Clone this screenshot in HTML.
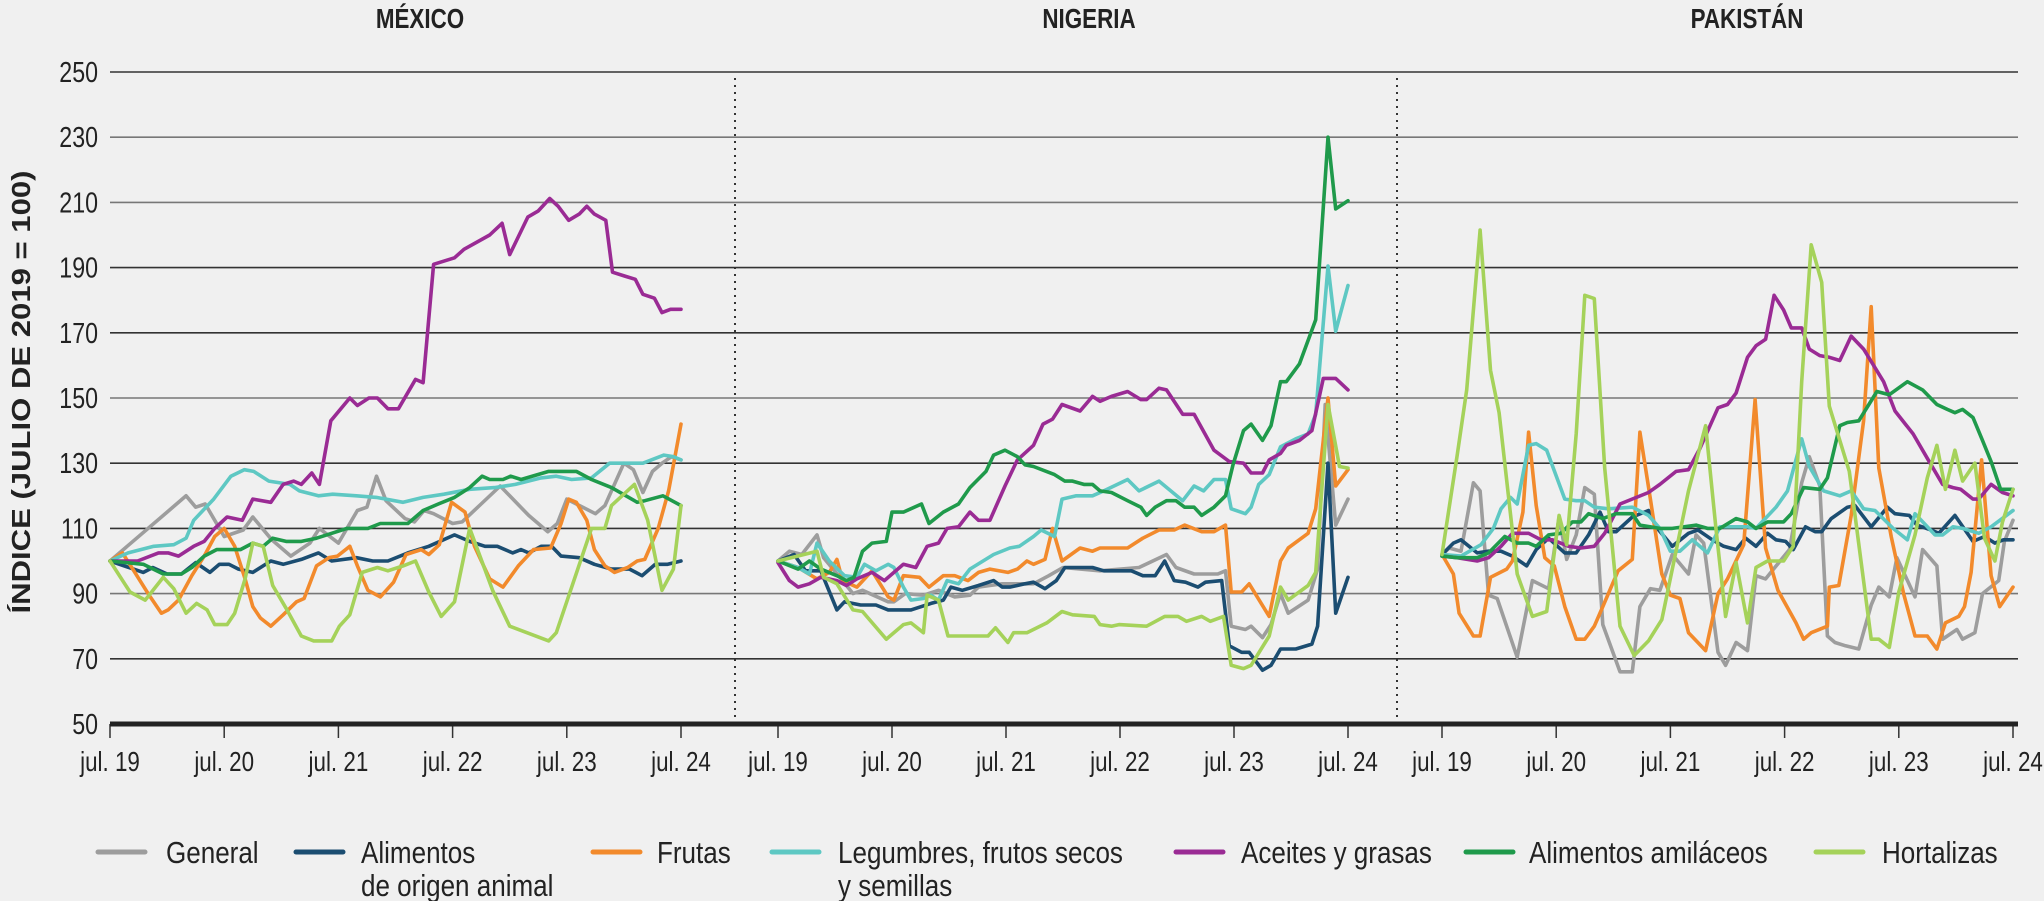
<!DOCTYPE html>
<html><head><meta charset="utf-8"><style>
html,body{margin:0;padding:0;background:#f0f0f0;}
svg{display:block;font-family:"Liberation Sans",sans-serif;}
</style></head><body>
<svg id="chart" width="2044" height="901" viewBox="0 0 2044 901" xmlns="http://www.w3.org/2000/svg">
<rect x="0" y="0" width="2044" height="901" fill="#f0f0f0"/>
<g id="grid"></g>
<g id="axes"></g>
<g id="series"></g>
<g id="labels"></g>
<g id="legend"></g>
</svg>
<script>
const yTicks = [50,70,90,110,130,150,170,190,210,230,250];
const xTickLabels = ["jul. 19","jul. 20","jul. 21","jul. 22","jul. 23","jul. 24"];
const panelTitles = ["MÉXICO","NIGERIA","PAKISTÁN"];
const seriesNames = ["General","Alimentos de origen animal","Frutas","Legumbres, frutos secos y semillas","Aceites y grasas","Alimentos amiláceos","Hortalizas"];

// [month index since jul.19, index value]
const mexGeneral = [[0,100],[6,115],[8,120],[9,116.5],[10,117.5],[12,107.5],[14,109.5],[15,113.5],[17,106.5],[19,101.5],[21,105.5],[22,110],[24,105.5],[26,115.5],[27,116.5],[28,126],[29,118.5],[31,113],[32,112],[33,115.5],[34,114.5],[36,111.5],[37,112],[39,117.5],[41,123],[42,120],[44,114],[46,109],[47,111.5],[48,119],[51,114.5],[52,117],[54,130],[55,128],[56,121],[57,127.5],[58,130],[59,132],[60,131]];
const mexAnimal = [[0,100],[3.5,96.5],[4.5,98],[6,96],[7.5,96],[9,99.5],[10.5,96.5],[11.5,99],[12.5,99],[13.5,97.5],[15,96.5],[16.9,100],[18.2,99],[20.1,100.5],[21.9,102.5],[23.3,100],[25.9,101],[27.6,100],[29.2,100],[31.3,102.5],[33.5,104.5],[36.2,108],[37.8,106],[39.4,104.5],[40.7,104.5],[42.3,102.5],[43.2,103.5],[44,102.5],[45.3,104.5],[46.4,104.5],[47.4,101.5],[49.3,101],[50.9,99],[52.7,97.5],[54.6,97.5],[55.9,95.5],[57.3,99],[58.6,99],[60,100]];
const mexFrutas = [[0,100],[1.3,102.5],[2.4,97.5],[4,90],[5.4,84],[6.1,85],[7.2,88],[8.6,95.5],[9.9,101.5],[11,107.5],[12,110],[13.1,104.5],[14.2,94.5],[15,86],[15.8,82.5],[16.9,80],[18.2,83.5],[19.6,87.5],[20.4,88.5],[21.7,98.5],[23,101],[23.9,101.5],[25.2,104.5],[26,98.5],[27.1,91],[28.4,89],[29.8,93.5],[31.1,102],[32.7,103.5],[33.5,102],[34.6,105],[35.9,118],[37.3,115],[38.3,104.5],[39.9,94.5],[41.3,92],[42.9,98.5],[44.5,103.5],[46.3,104],[47.4,111.5],[48.2,119],[49,118],[50.1,112.5],[50.9,103.5],[52,98.5],[53,96.5],[54.4,98],[55.4,100],[56.2,100.5],[57.6,110],[58.7,121.5],[60,142]];
const mexLegumbres = [[0,100],[1.9,102.5],[4.6,104.5],[6.7,105],[8,107],[8.8,112.5],[10.9,119],[12.7,126],[14.1,128],[15.1,127.5],[16.7,124.5],[18.9,123.5],[19.9,121.5],[21.9,120],[23.4,120.5],[25.9,120],[28,119.5],[30.8,118],[32.9,119.5],[35.1,120.5],[37.8,122],[40.4,122.5],[42.6,123.5],[45.3,125.5],[46.9,126],[48.5,125],[50.6,125.5],[52.5,130],[56,130],[58.2,132.5],[59.2,132],[60,131]];
const mexAceites = [[0,100],[2.9,100],[5.1,102.5],[6.1,102.5],[7.2,101.5],[8.8,104.5],[9.9,106],[11,110],[12.3,113.5],[13.9,112.5],[15,119],[16.9,118],[18.2,123.5],[19.3,124.5],[20.1,123.5],[21.2,127],[22,123.5],[23.2,143],[25.2,150],[26,147.7],[27.2,150],[28.1,150],[29.2,146.7],[30.3,146.7],[32.1,155.7],[32.9,154.7],[34,191],[36.2,193],[37.2,195.6],[39.9,200],[41.2,203.6],[42,194],[43.9,205.5],[45,207.4],[46.2,211.2],[47.1,208.8],[48.2,204.5],[49.3,206.4],[50.1,208.8],[50.9,206.4],[52.1,204.5],[52.8,188.6],[54.1,187.4],[55.2,186.4],[56,181.8],[57.2,180.6],[58,176.2],[58.9,177.2],[60,177.2]];
const mexAmilaceos = [[0,100],[3.5,99],[5.6,96],[7.5,96],[8.6,98],[9.9,101.5],[11.2,103.5],[13.7,103.5],[15,105.5],[16.1,104.5],[17.1,107],[18.5,106],[20.1,106],[21.7,107],[23.3,108.5],[24.9,110],[27.1,110],[28.4,111.5],[31.3,111.5],[32.9,115.5],[34.5,117.5],[36.2,119.5],[37.8,122.5],[39.1,126],[39.9,125],[41.3,125],[42.1,126],[43.2,125],[46.1,127.5],[49,127.5],[50.6,125],[52.7,122.5],[55.4,118],[56.2,118.5],[58.1,120],[60,117]];
const mexHortalizas = [[0,100],[2.1,90.5],[3.7,88],[5.6,95],[6.7,91.5],[8,84],[9.1,87],[10.2,85],[11,80.5],[12.3,80.5],[13.1,84],[14.2,94.5],[15,105.5],[16.1,104.5],[17.1,92.5],[18.5,85.5],[20.1,77],[21.4,75.5],[23.3,75.5],[24.1,80],[25.2,83.5],[26.5,96.5],[28.1,98],[29.2,97],[30.8,98.5],[32.1,100],[33.5,90.5],[34.8,83],[36.2,87.5],[37.8,110],[40.2,91],[42,80],[46.1,75.5],[46.9,78],[50.6,110],[52,110],[52.7,117],[55.1,123.5],[56.5,112.5],[58,91],[59.2,97.5],[60,117]];

const ngaGeneral = [[0,100],[1.2,103],[2.5,102],[4.1,108],[4.8,101],[6.8,94],[7.9,90],[8.9,91],[11.6,87.5],[12.2,87.5],[13.4,90],[15.3,89.5],[16.9,91],[18.6,89],[20.2,89.5],[21.1,92],[22.3,92.5],[23.6,93],[26.9,93],[28.5,95.5],[30,98],[33.9,97],[38,98],[40.9,102],[41.9,98],[43.8,96],[46.3,96],[47.1,97],[47.7,80],[49.2,79],[49.8,80],[51,76.5],[51.9,80.5],[52.9,90],[53.7,84],[55.8,88],[56.8,97.5],[57.6,148],[58.7,111],[60,119]];
const ngaAnimal = [[0,100],[1.7,102],[2.9,97],[4.5,97],[6.2,85],[7,87.5],[8.7,86.5],[10.3,86.5],[11.6,85],[14,85],[16.1,87],[17.4,88],[18.2,92],[19.4,91],[21.1,92.5],[22.7,94],[23.6,92],[24.4,92],[26,93],[26.9,93.5],[28.1,91.5],[29.3,94],[30.2,98],[33.1,98],[34.3,97],[37.2,97],[38.4,95.5],[39.7,95.5],[40.7,100],[41.7,94],[42.9,93.5],[44.2,92],[45,93.5],[46.7,94],[47.5,74],[48.8,72],[49.6,72],[51,66.5],[51.9,68],[52.9,73],[54.5,73],[56.2,74.5],[56.8,80],[57.9,130],[58.7,84],[60,95]];
const ngaFrutas = [[0,100],[2.1,98],[4.1,94.5],[5.4,96.5],[6.2,100.5],[6.8,94],[8.3,92],[9.9,97],[11.6,89],[12.2,88],[13.2,95.5],[14.9,95],[15.9,92],[17.4,95.5],[18.6,95.5],[20,94],[21.1,96.5],[22.3,97.5],[24.2,96.5],[25.2,97.5],[26.2,100],[26.9,99],[28.1,100.5],[28.9,110],[29.9,100],[31.8,104],[33.1,103],[33.9,104],[36.8,104],[38.4,107],[40.1,109.5],[41.7,109.5],[42.8,111],[44.6,109],[45.9,109],[47.1,111],[47.7,90.5],[48.8,90.5],[49.6,93],[51.7,83],[52.9,100],[53.7,104],[55.8,108.5],[56.6,116],[57.9,150],[58.7,123],[60,128]];
const ngaLegumbres = [[0,100],[2.1,98],[3.3,96],[4.1,105.5],[5.4,100],[7,95.5],[8.3,95],[9.1,99],[10.3,97],[11.6,99],[12.2,98],[13.2,92],[14,88],[15.3,88.5],[16.1,89.5],[16.9,88],[17.8,94],[19,93],[20.2,97.5],[22.7,102],[24.4,104],[25.4,104.5],[26.9,107.5],[27.7,109.5],[29.1,107.5],[29.9,119],[31.4,120],[33.1,120],[34.3,121.5],[36.8,125],[38,121.5],[40.1,124.5],[42.6,118.5],[43.8,123],[44.8,121.5],[45.9,125],[47.1,125],[47.7,116],[49.2,114.5],[49.8,116.5],[50.6,123.5],[51.7,126.5],[52.9,135],[54.5,137.5],[55.8,139],[56.6,145],[57.9,190.5],[58.7,170.5],[60,184.5]];
const ngaAceites = [[0,99.5],[1.2,94],[2.1,92],[3.3,93],[4.5,95],[6.2,94],[7.2,92.5],[8.3,94.5],[9.9,96.5],[11.2,94],[13.2,99],[14.5,98],[15.7,104.5],[16.9,105.5],[17.8,110],[19,110.5],[20.2,115],[21.1,112.5],[22.3,112.5],[23.9,123],[25.2,131],[26.9,135.5],[27.9,142],[28.9,143.5],[29.9,148],[31.8,146],[33.1,150.5],[33.9,149],[35.1,150.5],[36.8,152],[38.2,149.5],[38.8,149.5],[40.1,153],[40.9,152.5],[42.6,145],[43.8,145],[45.9,134],[47.5,130.5],[49,130],[49.8,127],[51,127],[51.7,131],[52.9,133],[53.5,135.5],[54.9,137],[56.2,140],[57.4,156],[58.7,156],[60,152.5]];
const ngaAmilaceos = [[0,100],[2.1,97.5],[3.3,100],[4.5,97.5],[6.2,95.5],[7.2,94],[8,95],[8.9,103],[9.9,105.5],[11.4,106],[12,115],[13.2,115],[15.1,117.5],[15.9,111.5],[17.4,115],[19,117.5],[20.2,122.5],[21.9,127.5],[22.7,132.5],[23.9,134],[25.2,132],[26,129.5],[26.9,129],[29.1,126.5],[30.2,124.5],[31,124.5],[32.2,123.5],[33.1,123.5],[33.9,121.5],[35.1,121],[36.8,118.5],[38.2,116.5],[38.8,114],[39.7,116.5],[40.9,118.5],[41.9,118.5],[42.8,116.5],[43.8,116.5],[44.6,114],[45.9,116.5],[47.1,120],[47.9,129.5],[49,140],[49.8,142],[51,137],[51.9,141.5],[52.9,155],[53.5,155],[54.9,160.5],[56.6,174],[57.9,230],[58.7,208],[60,210.5]];
const ngaHortalizas = [[0,100],[4.1,103],[4.8,95],[6.2,93],[7.9,85],[8.9,84.5],[11.4,76],[13.2,80.5],[14,81],[15.3,78],[15.7,89.5],[16.9,88],[17.9,77],[22.1,77],[22.9,79.5],[24.2,75],[24.8,78],[26.2,78],[28.3,81],[29.9,84.5],[31,83.5],[33.3,83],[33.9,80.5],[35.1,80],[35.9,80.5],[38.8,80],[40.7,83],[42.1,83],[43,81.5],[44.6,83],[45.5,81.5],[46.9,83],[47.7,68],[49,67],[49.8,68],[51.7,77],[52.9,92],[53.7,88],[55.8,92.5],[56.6,96.5],[57.9,148],[59.1,129],[60,128.5]];

const pakGeneral = [[0,101.8],[0.75,104],[2,103],[3.3,124],[4,121.5],[4.9,89.5],[5.8,88.5],[7.9,70.5],[9.5,94],[11.2,91.5],[12.3,113.5],[13.1,100.5],[14.1,108],[15,122.5],[16,120.5],[16.9,80.5],[18.7,66],[20,66],[20.8,86],[21.9,91.5],[22.9,91],[24.2,102],[25.9,96],[26.7,108],[27.5,105.5],[29,72],[29.8,68],[30.9,75],[32.1,72.5],[33,95.5],[34,94.5],[36.5,103.5],[37.8,124],[38.6,132],[39.7,123],[40.5,77],[41.3,75],[42.4,74],[43.8,73],[45.1,86.5],[45.9,92],[47,89],[47.8,101],[49.7,89],[50.5,103.5],[52,98.5],[52.6,76],[54.1,79],[54.7,76],[56,78],[56.8,90],[58.5,94],[59.1,106],[60,112.5]];
const pakAnimal = [[0,102],[1.2,105.5],[2,106.5],[3.7,102.5],[4.9,103],[6.2,103],[7.4,101.5],[8.9,98.5],[9.9,103.5],[11.2,107],[12.9,102.5],[14.1,102.5],[15.4,108],[16.6,115],[17.5,109],[18.3,109],[20,113.5],[21.7,115.5],[22.5,110.5],[24.2,104.5],[25.9,108.5],[26.9,109.5],[28.4,106.5],[29.6,104.5],[30.9,103.5],[31.9,107],[33,104.5],[34.2,108.5],[35.1,106.5],[36.1,106],[36.9,103.5],[38.2,110.5],[39.2,109],[39.9,109],[40.9,113],[42.6,116.5],[43.4,117],[45.1,110.5],[46.8,116.5],[47.6,114.5],[49.1,114],[49.9,111],[51.4,109.5],[52.2,108.5],[53.9,114],[55.8,106],[57,107.5],[58.1,105.5],[59,106.5],[60,106.5]];
const pakFrutas = [[0,102],[1.2,96],[1.8,84],[3.3,77],[4,77],[5.1,95],[6.8,97.5],[7.4,100],[8.5,115],[9.1,139.5],[9.9,117],[10.8,101],[11.8,98.5],[12.9,86],[14.1,76],[15,76],[16,80],[16.9,86],[18.5,97],[20,100.5],[20.8,139.5],[21.9,119],[23.1,96],[24,89.5],[25,88.5],[25.9,78],[27.7,72.5],[29,90],[30,94.5],[31.7,105],[32.9,149.5],[34,104],[35.3,91],[37.2,81],[38,76],[38.8,78],[40.5,80],[40.7,92],[41.7,92.5],[43,114],[44.3,143],[45.1,178],[45.9,128.5],[47.2,107.5],[48.5,90],[49.7,77],[51,77],[52,73],[52.9,81],[54.3,83],[54.9,86],[55.6,96.5],[56.7,131],[57.7,95.5],[58.6,86],[60,92]];
const pakLegumbres = [[0,102],[2,101.5],[4.1,105],[5.4,110],[6.2,116],[7.2,119.5],[7.9,117.5],[9.1,135.5],[9.9,136],[11,134],[12.9,119],[14.1,118.5],[15,118.5],[16,116.5],[17.5,116],[20,116.5],[21.7,114],[22.9,110],[24,103],[25,103],[26.3,106.5],[27.9,102.5],[29.2,110.5],[32.1,110.5],[33,110],[35.1,116.5],[36.3,121.5],[37.8,137.5],[38.6,129],[40.1,121.5],[41.8,120],[43,121.5],[44.3,116],[45.5,115.5],[47.4,110],[48.9,106.5],[49.7,114.5],[51.8,108],[52.6,108],[53.7,110.5],[54.7,110],[56.4,108.5],[57.7,110.5],[60,115.5]];
const pakAceites = [[0,101.5],[1.6,101],[3.7,100],[4.9,101],[6.2,104.5],[7.4,108.5],[9.1,108.5],[10.4,106.5],[11.6,106.5],[13.3,104.5],[14.6,104],[16,104.5],[17.1,108.5],[18.7,117.5],[21.7,121],[22.9,123.5],[24.6,127.5],[25.9,128],[27.1,134.5],[29,147],[30,148],[30.9,151.5],[32.1,162.5],[33,166],[34,168],[34.9,181.5],[35.9,177],[36.7,171.5],[37.8,171.5],[38.6,165],[39.7,163],[40.7,162.5],[41.8,161.5],[43,169],[44.3,165],[46.4,155],[47.6,146],[49.5,139],[51,131.5],[52.6,123.5],[53.7,122.5],[54.5,122],[55.8,119],[56.4,119],[57.7,123.5],[58.9,121],[60,120]];
const pakAmilaceos = [[0,101.5],[1.6,101],[3.7,101],[4.9,102.5],[6.6,107.5],[7.9,105.5],[9.1,105.5],[9.9,104.5],[11.2,108],[12.5,108.5],[13.7,112],[14.6,112],[15.4,114.5],[16.9,113],[18.3,114.5],[20,114.5],[20.8,111],[22.9,110],[24.2,110],[26.7,111],[27.9,110],[29.2,110],[30.9,113],[32.1,112],[33,110],[34.2,112],[35.9,112],[36.7,114.5],[38,122.5],[39.7,122],[40.5,125.5],[41.8,141.5],[42.6,142.5],[43.8,143],[45.7,152],[47,151],[48.9,155],[50.5,152.5],[52,148],[53.1,146.5],[53.9,145.5],[54.7,146.5],[55.8,144],[56.8,137],[57.7,130.5],[58.7,122],[60,122]];
const pakHortalizas = [[0,102],[1.6,132.5],[2.6,152.5],[4,201.5],[5.1,158.5],[6,145.5],[7.9,96],[9.5,83],[11,84.5],[12.3,114],[13.1,105],[14.1,139],[15,181.5],[16,180.5],[17.1,128.5],[18.7,80],[20.2,71],[21.7,75.5],[23.1,82],[24.2,97.5],[25.9,121.5],[27.7,141.5],[28.8,109.5],[29.8,83],[30.9,99.5],[32.1,81],[33,98],[34.2,100],[35.9,100],[36.9,104.5],[37.8,155],[38.8,197],[39.9,185.5],[40.7,147.5],[42.8,127.5],[45.1,76],[45.9,76],[47,73.5],[48,90.5],[49.7,108],[51,125.5],[52,135.5],[52.9,122],[53.9,134],[54.7,124.5],[56,130],[57,107],[58.1,100],[58.9,112],[60,122]];

const colors = ["#9d9d9d","#1b4d71","#f28a2c","#5ec8c3","#9a2b94","#1f9a4b","#a5d25a"];
const keys = ["general","animal","frutas","legumbres","aceites","amilaceos","hortalizas"];
const panels = [
  {id:"mexico", x0:110, x1:681, data:[mexGeneral,mexAnimal,mexFrutas,mexLegumbres,mexAceites,mexAmilaceos,mexHortalizas], tx:420},
  {id:"nigeria", x0:778, x1:1348, data:[ngaGeneral,ngaAnimal,ngaFrutas,ngaLegumbres,ngaAceites,ngaAmilaceos,ngaHortalizas], tx:1089},
  {id:"pakistan", x0:1442, x1:2013, data:[pakGeneral,pakAnimal,pakFrutas,pakLegumbres,pakAceites,pakAmilaceos,pakHortalizas], tx:1747}
];
const NS="http://www.w3.org/2000/svg";
function yScale(v){ return 724 - (v-50)*3.26; }
function xScale(p,m){ return p.x0 + (p.x1-p.x0)*m/60; }
function mk(tag, attrs, parent){ const e=document.createElementNS(NS,tag); for(const k in attrs) e.setAttribute(k,attrs[k]); parent.appendChild(e); return e; }
function narrowText(parent, str, x, y, size, anchor, weight, sx){
  const t = mk("text",{transform:`translate(${x},${y}) scale(${sx},1)`,"font-size":size,"text-anchor":anchor,"font-weight":weight,fill:"#222"},parent);
  t.textContent = str; return t;
}
const grid=document.getElementById("grid"), axes=document.getElementById("axes"), ser=document.getElementById("series"), lab=document.getElementById("labels"), leg=document.getElementById("legend");

yTicks.forEach(v=>{
  if(v===50) return;
  const l = mk("line",{x1:110,x2:2018,y1:yScale(v),y2:yScale(v),stroke:(v===250||v===190||v===170||v===130||v===110||v===70)?"#333":"#777","stroke-width":1.6},grid);
  
  
  const t = narrowText(lab, String(v), 98, yScale(v)+10, 29, "end", "normal", 0.8);
  
  
});
[735,1397].forEach((x,i)=>{
  const l = mk("line",{x1:x,x2:x,y1:78,y2:722,stroke:"#333","stroke-width":2,"stroke-dasharray":"2 5"},axes);
  
  
});
const t50 = narrowText(lab, "50", 98, yScale(50)+10, 29, "end", "normal", 0.8);



panels.forEach((p,pi)=>{
  const tt = narrowText(lab, panelTitles[pi], p.tx, 28, 28, "middle", "bold", 0.8);
  
  
  xTickLabels.forEach((s,i)=>{
    const x = xScale(p, i*12);
    const tk = mk("line",{x1:x,x2:x,y1:724,y2:738,stroke:"#333","stroke-width":1.5},axes);
    
    
    const tl = narrowText(lab, s, x, 771, 28, "middle", "normal", 0.8);
    
    
  });
  p.data.forEach((arr,si)=>{
    const d = arr.map((pt,i)=>(i?"L":"M")+xScale(p,pt[0]).toFixed(1)+","+yScale(pt[1]).toFixed(1)).join("");
    const path = mk("path",{d:d,fill:"none",stroke:colors[si],"stroke-width":3.6,"stroke-linejoin":"round","stroke-linecap":"round"},ser);
    
    
  });
});
const base = mk("line",{x1:110,x2:2018,y1:724,y2:724,stroke:"#222","stroke-width":5},axes);



const yt = mk("text",{transform:"translate(30,392) rotate(-90)","font-size":26,"font-weight":"bold","text-anchor":"middle",fill:"#222",textLength:443,lengthAdjust:"spacingAndGlyphs"},lab);
yt.textContent="ÍNDICE (JULIO DE 2019 = 100)";



const legX = [[98,166],[296,361],[593,657],[772,838],[1176,1241],[1466,1529],[1816,1882]];
const legLines = [["General"],["Alimentos","de origen animal"],["Frutas"],["Legumbres, frutos secos","y semillas"],["Aceites y grasas"],["Alimentos amiláceos"],["Hortalizas"]];
legLines.forEach((lines,i)=>{
  const g = mk("g",{},leg);
  
  
  mk("line",{x1:legX[i][0],x2:legX[i][0]+47,y1:852,y2:852,stroke:colors[i],"stroke-width":5,"stroke-linecap":"round"},g);
  lines.forEach((s,j)=>{ narrowText(g, s, legX[i][1], 863+j*33, 31, "start", "normal", 0.84); });
});
</script>
</body></html>
